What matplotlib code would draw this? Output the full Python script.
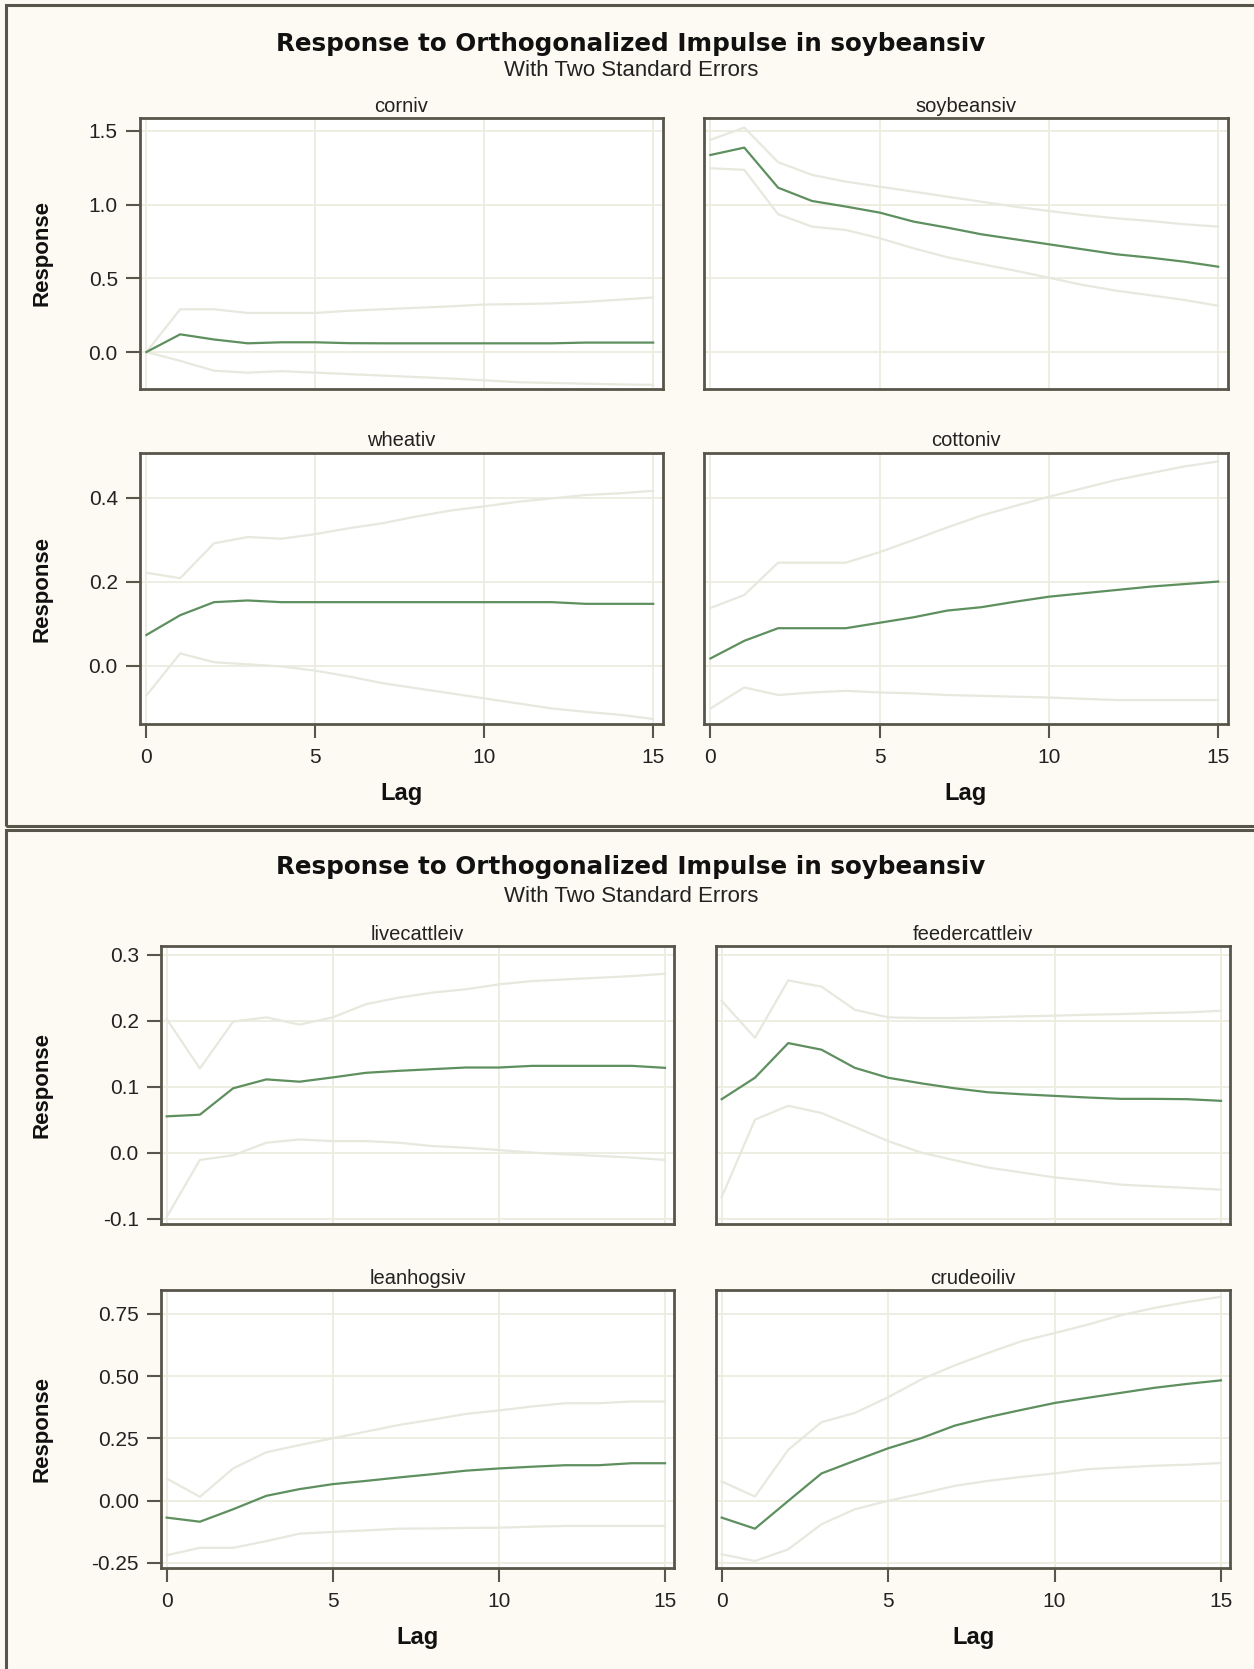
import numpy as np
import matplotlib
matplotlib.use('Agg')
import matplotlib.pyplot as plt
from matplotlib.patches import Rectangle

# Datos (respuesta e intervalos de dos errores estandar)
lags = list(range(16))

corniv_resp = [0.0, 0.12, 0.085, 0.059, 0.066, 0.066, 0.06, 0.059, 0.059, 0.059, 0.059, 0.059, 0.059, 0.064, 0.064, 0.064]
corniv_upper = [0.0, 0.29, 0.29, 0.265, 0.265, 0.265, 0.28, 0.29, 0.30, 0.31, 0.322, 0.325, 0.33, 0.34, 0.355, 0.37]
corniv_lower = [0.0, -0.06, -0.127, -0.14, -0.13, -0.14, -0.15, -0.16, -0.17, -0.18, -0.192, -0.205, -0.21, -0.215, -0.22, -0.223]

soy_resp = [1.337, 1.387, 1.115, 1.025, 0.987, 0.946, 0.885, 0.844, 0.799, 0.765, 0.731, 0.697, 0.663, 0.64, 0.613, 0.579]
soy_upper = [1.44, 1.523, 1.288, 1.202, 1.156, 1.122, 1.088, 1.054, 1.02, 0.986, 0.957, 0.93, 0.907, 0.889, 0.867, 0.851]
soy_lower = [1.247, 1.236, 0.935, 0.851, 0.828, 0.772, 0.704, 0.643, 0.597, 0.552, 0.504, 0.455, 0.416, 0.385, 0.353, 0.314]

wheat_resp = [0.073, 0.12, 0.151, 0.155, 0.151, 0.151, 0.151, 0.151, 0.151, 0.151, 0.151, 0.151, 0.151, 0.147, 0.147, 0.147]
wheat_upper = [0.221, 0.208, 0.291, 0.306, 0.302, 0.313, 0.327, 0.339, 0.355, 0.369, 0.379, 0.39, 0.398, 0.406, 0.41, 0.416]
wheat_lower = [-0.071, 0.029, 0.008, 0.003, -0.002, -0.012, -0.026, -0.042, -0.054, -0.066, -0.078, -0.09, -0.102, -0.11, -0.117, -0.127]

cotton_resp = [0.017, 0.059, 0.089, 0.089, 0.089, 0.102, 0.115, 0.131, 0.139, 0.152, 0.164, 0.172, 0.18, 0.188, 0.194, 0.2]
cotton_upper = [0.137, 0.168, 0.245, 0.245, 0.245, 0.27, 0.299, 0.329, 0.357, 0.38, 0.402, 0.422, 0.442, 0.458, 0.474, 0.486]
cotton_lower = [-0.102, -0.052, -0.07, -0.064, -0.06, -0.064, -0.066, -0.07, -0.072, -0.074, -0.076, -0.079, -0.082, -0.082, -0.082, -0.082]

live_resp = [0.0555, 0.058, 0.098, 0.1115, 0.108, 0.1145, 0.1215, 0.1245, 0.127, 0.1295, 0.1295, 0.132, 0.132, 0.132, 0.132, 0.129]
live_upper = [0.203, 0.128, 0.199, 0.2055, 0.1945, 0.2055, 0.2255, 0.2355, 0.243, 0.248, 0.2555, 0.2605, 0.263, 0.2655, 0.268, 0.2715]
live_lower = [-0.097, -0.0105, -0.0035, 0.0155, 0.0205, 0.018, 0.018, 0.0155, 0.0105, 0.008, 0.0045, 0.0005, -0.002, -0.0045, -0.007, -0.0105]

feeder_resp = [0.0815, 0.114, 0.1665, 0.1565, 0.129, 0.114, 0.1055, 0.098, 0.092, 0.089, 0.0865, 0.084, 0.082, 0.082, 0.0815, 0.079]
feeder_upper = [0.2305, 0.1745, 0.2615, 0.252, 0.217, 0.2055, 0.2045, 0.2045, 0.2055, 0.207, 0.208, 0.2095, 0.2105, 0.212, 0.213, 0.2155]
feeder_lower = [-0.067, 0.0505, 0.0715, 0.0605, 0.0395, 0.018, 0.0005, -0.011, -0.022, -0.0295, -0.037, -0.042, -0.048, -0.0505, -0.053, -0.0555]

hogs_resp = [-0.0685, -0.085, -0.035, 0.019, 0.046, 0.066, 0.079, 0.093, 0.106, 0.12, 0.129, 0.136, 0.142, 0.142, 0.15, 0.15]
hogs_upper = [0.0885, 0.015, 0.129, 0.194, 0.223, 0.25, 0.277, 0.304, 0.325, 0.348, 0.362, 0.378, 0.391, 0.391, 0.398, 0.398]
hogs_lower = [-0.22, -0.19, -0.19, -0.163, -0.133, -0.126, -0.12, -0.113, -0.112, -0.11, -0.109, -0.105, -0.102, -0.102, -0.102, -0.102]

crude_resp = [-0.0685, -0.113, -0.0015, 0.109, 0.16, 0.21, 0.251, 0.301, 0.335, 0.364, 0.392, 0.413, 0.433, 0.453, 0.469, 0.483]
crude_upper = [0.077, 0.016, 0.204, 0.315, 0.352, 0.415, 0.487, 0.543, 0.593, 0.64, 0.673, 0.707, 0.745, 0.774, 0.798, 0.819]
crude_lower = [-0.216, -0.243, -0.196, -0.095, -0.035, -0.001, 0.028, 0.059, 0.079, 0.095, 0.109, 0.126, 0.133, 0.14, 0.144, 0.151]

titulo = 'Response to Orthogonalized Impulse in soybeansiv'
subtitulo = 'With Two Standard Errors'

# Colores
fondo = '#FDFAF3'
borde = '#58554A'
verde = '#5E8F5E'
banda = '#E6E9DE'
rejilla = '#EDECDE'

W, H = 1254, 1669
fig = plt.figure(figsize=(W / 100, H / 100), dpi=100, facecolor=fondo)
plt.rcParams['font.family'] = ['Liberation Sans', 'DejaVu Sans']


def caja(izq, arr, der, aba):
    # convierte pixeles (y desde arriba) a fraccion de figura
    return [izq / W, 1 - aba / H, (der - izq) / W, (aba - arr) / H]


def fy(y):
    return 1 - y / H


# Marcos de los dos paneles
for (y0, y1) in [(5, 826), (830, 1690)]:
    fig.patches.append(Rectangle((6 / W, fy(y1)), (1275 - 6) / W, (y1 - y0) / H,
                                 transform=fig.transFigure, facecolor='none',
                                 edgecolor=borde, linewidth=2.2, zorder=0))


def panel(caja_px, nombre, resp, upper, lower, ylim, yticks, yfmt, xlim, izquierda, abajo):
    ax = fig.add_axes(caja(*caja_px))
    ax.set_facecolor('white')
    ax.plot(lags, upper, color=banda, linewidth=1.6, zorder=2)
    ax.plot(lags, lower, color=banda, linewidth=1.6, zorder=2)
    ax.plot(lags, resp, color=verde, linewidth=1.6, zorder=3)
    ax.set_xlim(*xlim)
    ax.set_ylim(*ylim)
    ax.set_xticks([0, 5, 10, 15])
    ax.set_xticklabels(['0', '5', '10', '15'])
    ax.set_yticks(yticks)
    ax.set_yticklabels([yfmt.format(v) for v in yticks])
    ax.grid(True, color=rejilla, linewidth=1.3, zorder=0)
    ax.set_axisbelow(True)
    for s in ax.spines.values():
        s.set_color(borde)
        s.set_linewidth(2)
    ax.tick_params(colors=borde, width=1.5, length=10, labelcolor='#222222', labelsize=15)
    ax.tick_params(axis='x', pad=7)
    ax.tick_params(axis='y', pad=6)
    izq, arr, der, aba = caja_px
    if not izquierda:
        ax.tick_params(axis='y', left=False, labelleft=False)
    else:
        fig.text(42 / W, fy((arr + aba) / 2), 'Response', rotation=90, ha='center',
                 va='center', fontsize=16, fontweight='bold', color='#111111')
    if not abajo:
        ax.tick_params(axis='x', bottom=False, labelbottom=False)
    else:
        fig.text((izq + der) / 2 / W, fy(aba + 69), 'Lag', ha='center', va='center',
                 fontsize=17, fontweight='bold', color='#111111')
    fig.text((izq + der) / 2 / W, fy(arr - 12), nombre, ha='center', va='center',
             fontsize=14.5, color='#222222')
    return ax


xlim_a = (-0.19, 15.29)
xlim_b = (-0.17, 15.27)

panel((140, 118, 663, 389), 'corniv', corniv_resp, corniv_upper, corniv_lower,
      (-0.251, 1.588), [0.0, 0.5, 1.0, 1.5], '{:.1f}', xlim_a, True, False)
panel((704, 118, 1228, 389), 'soybeansiv', soy_resp, soy_upper, soy_lower,
      (-0.251, 1.588), [0.0, 0.5, 1.0, 1.5], '{:.1f}', xlim_a, False, False)
panel((140, 453, 663, 724), 'wheativ', wheat_resp, wheat_upper, wheat_lower,
      (-0.139, 0.506), [0.0, 0.2, 0.4], '{:.1f}', xlim_a, True, True)
panel((704, 453, 1228, 724), 'cottoniv', cotton_resp, cotton_upper, cotton_lower,
      (-0.139, 0.506), [0.0, 0.2, 0.4], '{:.1f}', xlim_a, False, True)

panel((161, 946, 674, 1224), 'livecattleiv', live_resp, live_upper, live_lower,
      (-0.1076, 0.3136), [-0.1, 0.0, 0.1, 0.2, 0.3], '{:.1f}', xlim_b, True, False)
panel((716, 946, 1230, 1224), 'feedercattleiv', feeder_resp, feeder_upper, feeder_lower,
      (-0.1076, 0.3136), [-0.1, 0.0, 0.1, 0.2, 0.3], '{:.1f}', xlim_b, False, False)
panel((161, 1290, 674, 1568), 'leanhogsiv', hogs_resp, hogs_upper, hogs_lower,
      (-0.271, 0.846), [-0.25, 0.0, 0.25, 0.5, 0.75], '{:.2f}', xlim_b, True, True)
panel((716, 1290, 1230, 1568), 'crudeoiliv', crude_resp, crude_upper, crude_lower,
      (-0.271, 0.846), [-0.25, 0.0, 0.25, 0.5, 0.75], '{:.2f}', xlim_b, False, True)

# Titulos de cada panel
for (yt, ys) in [(44, 71), (867, 896)]:
    fig.text(631 / W, fy(yt), titulo, ha='center', va='center', fontsize=17.7,
             fontweight='bold', family='DejaVu Sans', color='#111111')
    fig.text(631 / W, fy(ys), subtitulo, ha='center', va='center', fontsize=16,
             color='#222222')

fig.savefig('out.png', dpi=100, facecolor=fondo)
